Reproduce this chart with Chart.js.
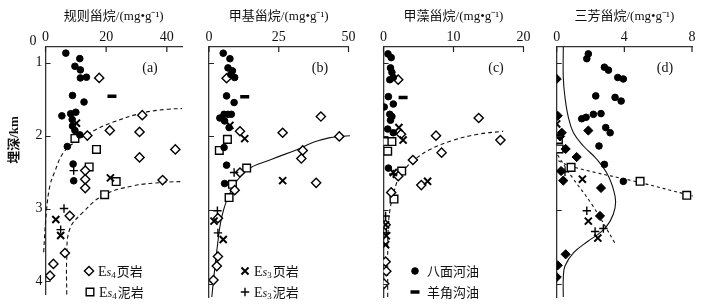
<!DOCTYPE html>
<html>
<head>
<meta charset="utf-8">
<script src="https://cdn.jsdelivr.net/npm/chart.js@4.4.0/dist/chart.umd.min.js"></script>
<style>
body { margin: 0; background: #fff; width: 706px; height: 306px; position: relative; overflow: hidden; }
canvas { position: absolute; top: 0; }
</style>
</head>
<body>
<canvas id="pa" width="195" height="306" style="left:0px"></canvas>
<canvas id="pb" width="170" height="306" style="left:195px"></canvas>
<canvas id="pc" width="175" height="306" style="left:365px"></canvas>
<canvas id="pd" width="166" height="306" style="left:540px"></canvas>
<script>
"use strict";

// depth axis (km), shared by all four panels
const Y_TOP = 0.786;
const Y_BOT = 4.18;
const depthTicks = [1, 2, 3, 4];

// (a) 规则甾烷  [value, depth]
const aOil = [[6.7,0.87],[11.3,0.945],[9.7,1.05],[11.5,1.10],[11.5,1.21],[13.5,1.20],[8.9,1.45],[12.7,1.54],[5.4,1.73],[8.3,1.70],[10.0,1.68],[8.8,1.78],[8.9,1.87],[9.7,1.93],[11.3,1.99],[7.2,2.15],[9.1,2.39],[9.3,2.62]];
const aYjg = [[21.9,1.46]];
const aEs3Shale = [[10.2,1.83],[21.4,2.58],[3.4,3.15],[5.0,3.37]];
const aEs3Mud = [[9.3,2.48],[6.1,3.0],[5.0,3.29]];
const aEs4Shale = [[17.7,1.21],[31.9,1.72],[21.2,1.93],[31.0,1.95],[13.8,2.0],[42.8,2.19],[31.0,2.30],[13.1,2.48],[13.1,2.60],[13.1,2.72],[38.6,2.61],[8.0,3.10],[6.4,3.61],[2.6,3.76],[1.5,3.92]];
const aEs4Mud = [[9.7,2.04],[16.8,2.19],[14.4,2.43],[23.3,2.63],[19.5,2.81]];
const aCurve1 = [[-1.2,4.18],[-0.6,3.6],[0.4,3.0],[1.5,2.68],[3.0,2.5],[5.8,2.24],[10,2.08],[15.6,1.94],[22,1.82],[32,1.69],[40,1.64],[45,1.63]];
const aCurve2 = [[7,4.18],[7,3.69],[8,3.28],[12.4,3.05],[19,2.82],[28.8,2.69],[39.7,2.64],[45,2.63]];

// (b) 甲基甾烷
const bOil = [[5.1,0.87],[7.5,0.945],[6.8,1.07],[8.4,1.11],[9.2,1.20],[7.8,1.16],[6.3,1.45],[9.0,1.54],[3.9,1.75],[5.4,1.70],[6.8,1.70],[8.0,1.70],[5.6,1.79],[7.2,1.88],[5.4,2.15],[6.3,2.39],[5.6,2.64]];
const bYjg = [[12.8,1.46]];
const bEs3Shale = [[7.5,1.85],[12.8,2.03],[26.4,2.60],[1.8,3.15],[5.1,3.4]];
const bEs3Mud = [[9.0,2.49],[3.0,3.01],[3.2,3.31]];
const bEs4Shale = [[6.3,1.21],[40.1,1.73],[26.4,1.95],[11.1,1.93],[46.7,2.0],[33.6,2.19],[33.1,2.30],[38.4,2.63],[11.1,2.49],[9.2,2.73],[3.2,3.11],[3.2,3.63],[2.8,3.76],[1.6,3.95]];
const bEs4Mud = [[6.6,2.04],[3.7,2.19],[13.5,2.43],[8.4,2.65],[7.2,2.83]];
const bCurve = [[1.0,4.18],[1.6,3.96],[2.8,3.55],[4.6,3.09],[7.5,2.77],[13.5,2.46],[22.5,2.31],[31.5,2.18],[37.4,2.08],[43,2.02],[47,2.0],[50.5,1.99]];

// (c) 甲藻甾烷
const cOil = [[0.64,0.88],[1.1,0.93],[1.0,1.07],[1.2,1.13],[1.4,1.20],[0.9,1.23],[0.7,1.46],[1.4,1.56],[0.1,1.60],[0.9,1.70],[1.2,1.73],[1.0,1.78],[0.6,1.9],[1.4,1.95],[0.7,2.43]];
const cYjg = [[2.8,1.47]];
const cEs3Shale = [[2.2,1.88],[2.8,2.05],[6.3,2.61],[1.4,2.49],[0.3,3.2],[0.4,3.35],[0.3,3.47]];
const cEs3Mud = [[1.4,2.51],[0.3,3.08],[0.4,3.31]];
const cEs4Shale = [[2.1,1.23],[13.6,1.75],[7.5,1.99],[16.7,2.05],[2.5,1.97],[8.3,2.22],[4.2,2.32],[2.1,2.54],[5.4,2.66],[1.1,2.76],[0.3,3.2],[0.3,3.7],[0.4,3.83],[0.1,4.0]];
const cEs4Mud = [[0.4,2.07],[1.2,2.07],[0.6,2.2],[2.6,2.47],[1.5,2.85]];
const cCurve = [[0.6,4.18],[0.6,3.65],[0.65,3.29],[0.9,3.01],[1.4,2.79],[2.1,2.58],[3.0,2.45],[4.5,2.31],[6.8,2.17],[9.7,2.06],[13.5,1.97],[17.1,1.93]];

// (d) 三芳甾烷
const dOil = [[1.87,0.88],[1.78,0.945],[2.82,1.06],[3.06,1.10],[3.61,1.20],[3.94,1.22],[2.31,1.45],[3.45,1.47],[3.81,1.52],[1.48,1.76],[1.74,1.74],[2.17,1.70],[2.62,1.69],[2.90,1.88],[3.16,1.95],[2.50,2.13],[2.82,2.38],[3.94,2.61]];
const dEs3Shale = [[0,1.83],[1.52,2.58],[1.87,3.15],[2.43,3.38]];
const dEs3Mud = [[0.49,2.48],[1.78,3.01],[2.27,3.29],[2.76,3.25]];
const dEs4Shale = [[0,1.22],[0.06,1.72],[1.87,1.92],[0.3,1.95],[0.2,2.0],[0.53,2.17],[1.18,2.28],[0.26,2.47],[0.39,2.60],[2.62,2.70],[2.56,3.08],[0.53,3.60],[0.06,3.75],[0,3.91]];
const dEs4Mud = [[0.1,2.04],[0.14,2.17],[0.85,2.42],[4.93,2.61],[7.69,2.80]];
const dCurve = [[0.39,0.786],[0.39,1.20],[0.49,1.47],[0.69,1.74],[0.99,1.95],[1.58,2.13],[2.37,2.31],[3.06,2.54],[3.45,2.81],[3.45,2.97],[3.16,3.15],[2.66,3.29],[1.87,3.42],[0.99,3.58],[0.49,3.76],[0.39,3.92],[0.39,4.18]];
const dLine1 = [[0.1,2.33],[0.89,2.41],[4.99,2.63],[7.73,2.79],[8.05,2.81]];
const dLine2 = [[0.05,2.25],[0.9,2.55],[2.1,2.93],[3.45,3.45]];

const SERIF = "'Liberation Serif', 'DejaVu Serif', serif";
const MIXED = "'Liberation Serif', 'Noto Sans CJK SC', serif";
const CJK = "'Noto Sans CJK SC', sans-serif";

const styles = {
    oil:   { pointStyle: "circle", pointRadius: 3.3, backgroundColor: "#000", borderColor: "#000", borderWidth: 1 },
    yjg:   { pointStyle: "line", pointRadius: 4.5, backgroundColor: "#000", borderColor: "#000", borderWidth: 3.5 },
    es3s:  { pointStyle: "crossRot", pointRadius: 5, backgroundColor: "#000", borderColor: "#000", borderWidth: 2 },
    es3m:  { pointStyle: "cross", pointRadius: 4.2, backgroundColor: "#000", borderColor: "#000", borderWidth: 1.4 },
    es4s:  { pointStyle: "rectRot", pointRadius: 4.6, backgroundColor: "#fff", borderColor: "#000", borderWidth: 1.4 },
    es4sD: { pointStyle: "rectRot", pointRadius: 4.6, backgroundColor: "#000", borderColor: "#000", borderWidth: 1 },
    es4m:  { pointStyle: "rect", pointRadius: 5.4, backgroundColor: "#fff", borderColor: "#000", borderWidth: 1.4 }
};

function drawEs(ctx, x, y, sub, rest) {
    ctx.textAlign = "left";
    ctx.textBaseline = "alphabetic";
    ctx.font = "14px " + SERIF;
    ctx.fillText("E", x, y);
    x += ctx.measureText("E").width;
    ctx.font = "italic 12px " + SERIF;
    ctx.fillText("s", x, y);
    x += ctx.measureText("s").width;
    ctx.font = "9px " + SERIF;
    ctx.fillText(sub, x, y + 2);
    x += ctx.measureText(sub).width + 1;
    ctx.font = "13px " + CJK;
    ctx.fillText(rest, x, y);
}

const extras = {
    id: "extras",
    afterDraw(chart, args, p) {
        const { ctx, chartArea: a, scales: { x, y } } = chart;
        ctx.save();
        // inward ticks
        ctx.strokeStyle = "#222";
        ctx.lineWidth = 1.2;
        ctx.beginPath();
        x.ticks.forEach(t => {
            const px = x.getPixelForValue(t.value);
            ctx.moveTo(px, a.top); ctx.lineTo(px, a.top + 5);
        });
        y.ticks.forEach(t => {
            const py = Math.round(y.getPixelForValue(t.value)) + 0.5;
            ctx.moveTo(a.left, py); ctx.lineTo(a.left + 5, py);
        });
        ctx.stroke();

        ctx.fillStyle = "#111";
        ctx.font = "14px " + SERIF;
        ctx.textAlign = "center";
        ctx.textBaseline = "middle";
        ctx.fillText(p.tag, p.tagX - p.left, 68);

        if (p.yTitle) {
            ctx.fillText("0", 33, 41);
            ctx.save();
            ctx.translate(15, 140);
            ctx.rotate(-Math.PI / 2);
            ctx.font = "bold 13px " + MIXED;
            ctx.fillText("埋深/km", 0, 0);
            ctx.restore();
        }

        // legend entries
        p.legend.forEach(e => {
            const st = styles[e.s];
            ctx.fillStyle = st.backgroundColor || "#fff";
            ctx.strokeStyle = "#000";
            ctx.lineWidth = st.borderWidth || 1.4;
            Chart.helpers.drawPoint(ctx, {
                pointStyle: st.pointStyle, radius: st.pointRadius, rotation: 0, borderWidth: st.borderWidth || 1
            }, e.x - p.left, e.y);
            ctx.fillStyle = "#111";
            if (e.sub) {
                drawEs(ctx, e.x - p.left + 9, e.y + 5, e.sub, e.text);
            } else {
                ctx.textAlign = "left";
                ctx.textBaseline = "middle";
                ctx.font = "13px " + CJK;
                ctx.fillText(e.text, e.x - p.left + 12, e.y);
            }
        });
        ctx.restore();
    }
};

const panels = [
    { id: "pa", left: 0, yW: 45.5, padR: 13, xMax: 45, xTicks: [0, 20, 40], yLabels: true, yTitle: true,
      title: "规则甾烷/(mg•g⁻¹)", tag: "(a)", tagX: 150,
      pts: [["oil", aOil], ["yjg", aYjg], ["es3s", aEs3Shale], ["es3m", aEs3Mud], ["es4s", aEs4Shale], ["es4m", aEs4Mud]],
      curves: [[aCurve1, [4, 3]], [aCurve2, [4, 3]]],
      legend: [{ s: "es4s", x: 89, y: 271, sub: "4", text: "页岩" }, { s: "es4m", x: 90, y: 292, sub: "4", text: "泥岩" }] },
    { id: "pb", left: 195, yW: 14, padR: 16.5, xMax: 50, xTicks: [0, 25, 50],
      title: "甲基甾烷/(mg•g⁻¹)", tag: "(b)", tagX: 320,
      pts: [["oil", bOil], ["yjg", bYjg], ["es3s", bEs3Shale], ["es3m", bEs3Mud], ["es4s", bEs4Shale], ["es4m", bEs4Mud]],
      curves: [[bCurve, []]],
      legend: [{ s: "es3s", x: 245, y: 271, sub: "3", text: "页岩" }, { s: "es3m", x: 245, y: 292, sub: "3", text: "泥岩" }] },
    { id: "pc", left: 365, yW: 18.5, padR: 16.5, xMax: 20, xTicks: [0, 10, 20],
      title: "甲藻甾烷/(mg•g⁻¹)", tag: "(c)", tagX: 496,
      pts: [["oil", cOil], ["yjg", cYjg], ["es3s", cEs3Shale], ["es3m", cEs3Mud], ["es4s", cEs4Shale], ["es4m", cEs4Mud]],
      curves: [[cCurve, [4, 3]]],
      legend: [{ s: "oil", x: 415, y: 271, text: "八面河油" }, { s: "yjg", x: 415, y: 292, text: "羊角沟油" }] },
    { id: "pd", left: 540, yW: 16.7, padR: 14, xMax: 8, xTicks: [0, 4, 8],
      title: "三芳甾烷/(mg•g⁻¹)", tag: "(d)", tagX: 665,
      pts: [["oil", dOil], ["es3s", dEs3Shale], ["es3m", dEs3Mud], ["es4sD", dEs4Shale], ["es4m", dEs4Mud]],
      curves: [[dCurve, []], [dLine1, [3, 3]], [dLine2, [3, 3]]],
      legend: [] }
];

function build(p) {
    const datasets = [];
    p.pts.forEach(([s, arr]) => {
        datasets.push(Object.assign({ data: arr.map(([x, y]) => ({ x, y })), showLine: false }, styles[s]));
    });
    p.curves.forEach(([arr, dash]) => {
        datasets.push({
            data: arr.map(([x, y]) => ({ x, y })),
            showLine: true, pointRadius: 0, borderColor: "#111", borderWidth: 1.1,
            borderDash: dash, tension: 0.4, clip: 8
        });
    });

    new Chart(document.getElementById(p.id), {
        type: "scatter",
        data: { datasets },
        options: {
            responsive: false,
            animation: false,
            events: [],
            layout: { autoPadding: false, padding: { left: 0, right: p.padR, top: 0, bottom: 9 } },
            plugins: { legend: { display: false }, tooltip: { enabled: false }, extras: p },
            scales: {
                x: {
                    type: "linear", position: "top", min: 0, max: p.xMax,
                    afterBuildTicks: s => { s.ticks = p.xTicks.map(v => ({ value: v })); },
                    afterFit: s => { s.height = 47; },
                    grid: { display: false, drawTicks: false },
                    border: { display: true, color: "#333", width: 1.3 },
                    ticks: { padding: 1, color: "#111", font: { family: SERIF, size: 14 }, maxRotation: 0, autoSkip: false },
                    title: { display: true, text: p.title, color: "#111", font: { family: MIXED, size: 13 }, padding: { top: 9, bottom: 0 } }
                },
                y: {
                    type: "linear", position: "left", reverse: true, min: Y_TOP, max: Y_BOT,
                    afterBuildTicks: s => { s.ticks = depthTicks.map(v => ({ value: v })); },
                    afterFit: s => { s.width = p.yW; },
                    grid: { display: false, drawTicks: false },
                    border: { display: true, color: "#333", width: 1.3 },
                    ticks: { display: !!p.yLabels, padding: 3, color: "#111", font: { family: SERIF, size: 14 } }
                }
            }
        },
        plugins: [extras]
    });
}

panels.forEach(build);
</script>
</body>
</html>
